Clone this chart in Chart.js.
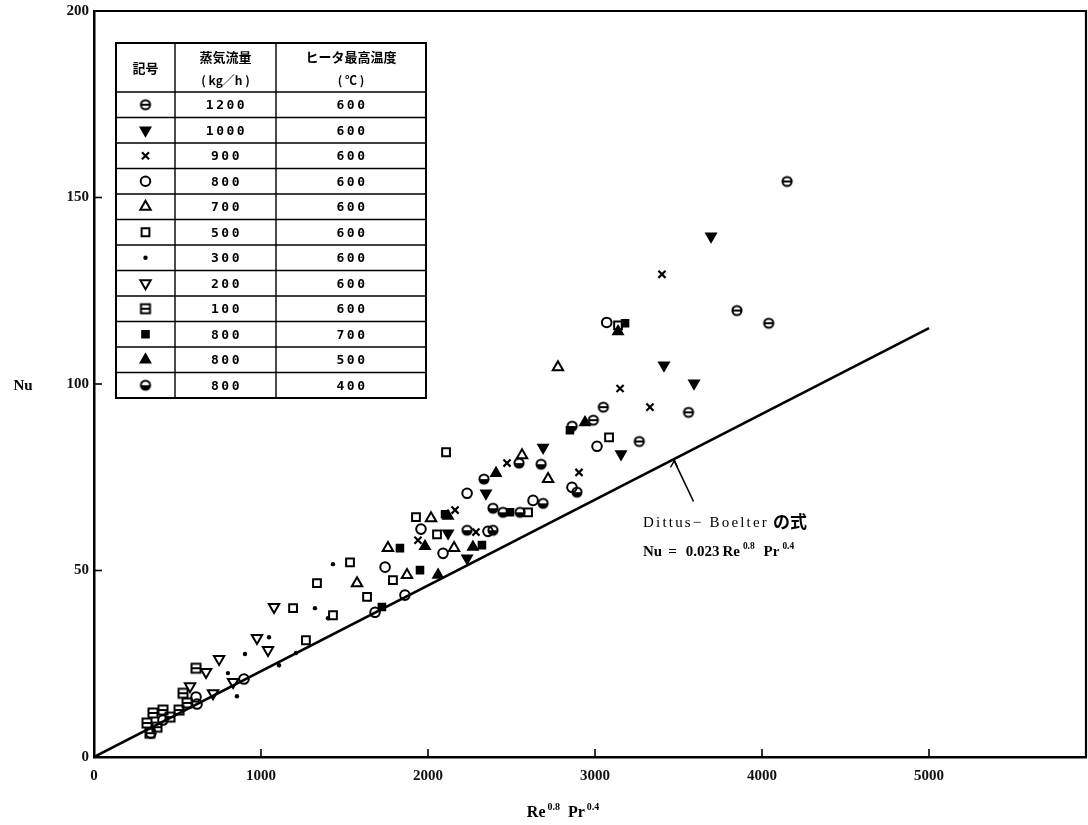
<!DOCTYPE html>
<html>
<head>
<meta charset="utf-8">
<title>Nu vs Re^0.8 Pr^0.4</title>
<script src="https://cdn.jsdelivr.net/npm/chart.js@4.4.1/dist/chart.umd.min.js"></script>
<style>
  html, body { margin: 0; padding: 0; background: #fff; }
  #wrap { position: relative; width: 1088px; height: 825px; }
</style>
</head>
<body>
<div id="wrap"><canvas id="chart" width="1088" height="825"></canvas></div>
<script>
// --- AXES ---
const xAxisTicks = [0, 1000, 2000, 3000, 4000, 5000];
const yAxisTicks = [0, 50, 100, 150, 200];

// --- MEASURED POINTS (x = Re^0.8 Pr^0.4, y = Nu) ---
// steam flow 1200 kg/h, heater 600 C
const s1200X = [4150, 3850, 4040, 3560, 3265, 3050, 2990];
const s1200Y = [154.3, 119.7, 116.3, 92.4, 84.6, 93.8, 90.3];
// 1000 kg/h
const s1000X = [3695, 3413, 3593, 3156, 2689, 2347, 2120, 2234];
const s1000Y = [139.6, 105.0, 100.2, 81.2, 83.0, 70.7, 60.0, 53.3];
// 900 kg/h
const s900X = [3401, 3150, 3329, 2904, 2473, 2287, 1940, 2162];
const s900Y = [129.4, 98.8, 93.8, 76.3, 78.8, 60.3, 58.1, 66.2];
// 800 kg/h
const s800X = [3070, 3012, 2234, 1958, 2090, 1743, 1683, 1862, 2862, 2629, 2359, 611, 617, 898, 341, 413];
const s800Y = [116.5, 83.3, 70.7, 61.1, 54.6, 50.9, 38.8, 43.4, 72.3, 68.8, 60.5, 16.1, 14.2, 20.9, 6.4, 9.9];
// 700 kg/h
const s700X = [2778, 2563, 2719, 2018, 2156, 1760, 1874, 1575];
const s700Y = [104.5, 80.9, 74.5, 64.0, 56.0, 56.0, 48.8, 46.6];
// 500 kg/h
const s500X = [3138, 3084, 2108, 1928, 2054, 1790, 1533, 1335, 1635, 1192, 1431, 1269, 2599];
const s500Y = [115.7, 85.7, 81.7, 64.3, 59.7, 47.4, 52.2, 46.6, 42.9, 39.9, 38.0, 31.3, 65.6];
// 300 kg/h
const s300X = [1431, 1323, 1210, 1108, 1048, 904, 802, 856, 1401];
const s300Y = [51.7, 39.9, 27.9, 24.6, 32.1, 27.6, 22.5, 16.3, 37.2];
// 200 kg/h
const s200X = [1078, 976, 1042, 749, 671, 575, 713, 833];
const s200Y = [40.2, 31.9, 28.7, 26.3, 22.8, 19.0, 17.1, 20.1];
// 100 kg/h
const s100X = [611, 533, 509, 353, 413, 455, 317, 377, 335, 557];
const s100Y = [23.8, 17.1, 12.6, 11.8, 12.6, 10.7, 9.1, 8.0, 6.4, 14.5];
// 800 kg/h, heater 700 C
const s800t700X = [3180, 2850, 2323, 1832, 1952, 1724, 2102, 2491];
const s800t700Y = [116.3, 87.6, 56.8, 56.0, 50.1, 40.2, 65.1, 65.6];
// 800 kg/h, heater 500 C
const s800t500X = [3138, 2940, 2407, 2120, 1982, 2269, 2060];
const s800t500Y = [114.1, 89.7, 76.1, 64.6, 56.5, 56.3, 48.8];
// 800 kg/h, heater 400 C
const s800t400X = [2335, 2545, 2677, 2389, 2449, 2551, 2689, 2234, 2389, 2863, 2892];
const s800t400Y = [74.5, 78.8, 78.5, 66.7, 65.6, 65.6, 68.0, 60.8, 60.8, 88.7, 71.0];

// Dittus-Boelter line and its leader
const dbX = [0, 5000];
const dbY = [0, 115];
const leaderX = [3470, 3590];
const leaderY = [79.8, 68.5];

// --- TABLE TEXT ---
const tableFlow = ['1200', '1000', '900', '800', '700', '500', '300', '200', '100', '800', '800', '800'];
const tableTemp = ['600', '600', '600', '600', '600', '600', '600', '600', '600', '700', '500', '400'];

const seriesX = [s1200X, s1000X, s900X, s800X, s700X, s500X, s300X, s200X, s100X, s800t700X, s800t500X, s800t400X];
const seriesY = [s1200Y, s1000Y, s900Y, s800Y, s700Y, s500Y, s300Y, s200Y, s100Y, s800t700Y, s800t500Y, s800t400Y];

// --- MARKERS ---
function makeMarker(kind) {
    const c = document.createElement('canvas');
    c.width = 14; c.height = 14;
    const g = c.getContext('2d');
    g.strokeStyle = '#000';
    g.fillStyle = '#000';
    g.lineWidth = 2;
    if (kind === 'circleBar') {
        g.beginPath(); g.arc(7, 7, 4.6, 0, Math.PI * 2); g.stroke();
        g.beginPath(); g.moveTo(3, 7); g.lineTo(11, 7); g.stroke();
    } else if (kind === 'circleHalf') {
        g.beginPath(); g.arc(7, 7, 4.6, 0, Math.PI); g.fill();
        g.beginPath(); g.arc(7, 7, 4.6, 0, Math.PI * 2); g.stroke();
    } else if (kind === 'squareBar') {
        g.strokeRect(2.5, 2.5, 9, 9);
        g.beginPath(); g.moveTo(2.5, 7); g.lineTo(11.5, 7); g.stroke();
    }
    return c;
}

const open = 'rgba(0,0,0,0)';
const markerStyles = [
    { pointStyle: makeMarker('circleBar'), pointRadius: 5, rotation: 0, backgroundColor: open, borderWidth: 2 },
    { pointStyle: 'triangle', pointRadius: 6, rotation: 180, backgroundColor: '#000', borderWidth: 1.5 },
    { pointStyle: 'crossRot', pointRadius: 5, rotation: 0, backgroundColor: open, borderWidth: 2.2 },
    { pointStyle: 'circle', pointRadius: 4.8, rotation: 0, backgroundColor: open, borderWidth: 2 },
    { pointStyle: 'triangle', pointRadius: 6, rotation: 0, backgroundColor: open, borderWidth: 2 },
    { pointStyle: 'rect', pointRadius: 5.5, rotation: 0, backgroundColor: open, borderWidth: 2 },
    { pointStyle: 'circle', pointRadius: 2.2, rotation: 0, backgroundColor: '#000', borderWidth: 0 },
    { pointStyle: 'triangle', pointRadius: 6, rotation: 180, backgroundColor: open, borderWidth: 2 },
    { pointStyle: makeMarker('squareBar'), pointRadius: 5, rotation: 0, backgroundColor: open, borderWidth: 2 },
    { pointStyle: 'rect', pointRadius: 5, rotation: 0, backgroundColor: '#000', borderWidth: 1.5 },
    { pointStyle: 'triangle', pointRadius: 6, rotation: 0, backgroundColor: '#000', borderWidth: 1.5 },
    { pointStyle: makeMarker('circleHalf'), pointRadius: 5, rotation: 0, backgroundColor: open, borderWidth: 2 }
];

const datasets = seriesX.map((xs, i) => ({
    type: 'scatter',
    label: tableFlow[i] + ' kg/h, ' + tableTemp[i] + ' ℃',
    data: xs.map((x, j) => ({ x: x, y: seriesY[i][j] })),
    pointStyle: markerStyles[i].pointStyle,
    pointRadius: markerStyles[i].pointRadius,
    rotation: markerStyles[i].rotation,
    backgroundColor: markerStyles[i].backgroundColor,
    borderColor: '#000',
    borderWidth: markerStyles[i].borderWidth
}));

datasets.push({
    type: 'line',
    label: 'Dittus-Boelter',
    data: dbX.map((x, j) => ({ x: x, y: dbY[j] })),
    borderColor: '#000',
    borderWidth: 2.6,
    pointRadius: 0,
    fill: false
});
datasets.push({
    type: 'line',
    label: 'leader',
    data: leaderX.map((x, j) => ({ x: x, y: leaderY[j] })),
    borderColor: '#000',
    borderWidth: 1.6,
    pointRadius: 0,
    fill: false
});

// --- DRAW HELPERS ---
const serif = "'Liberation Serif', 'DejaVu Serif', serif";
const jp = "'Noto Sans CJK JP', sans-serif";
const mono = "'DejaVu Sans Mono', monospace";

// parts: [text, isSuperscript, gapAfter]
function drawRich(ctx, parts, x, y, size, align) {
    let total = 0;
    parts.forEach(p => {
        ctx.font = 'bold ' + (p[1] ? size * 0.62 : size) + 'px ' + serif;
        total += ctx.measureText(p[0]).width + (p[2] || 0);
    });
    let cx = align === 'center' ? x - total / 2 : x;
    ctx.textAlign = 'left';
    ctx.textBaseline = 'alphabetic';
    parts.forEach(p => {
        ctx.font = 'bold ' + (p[1] ? size * 0.62 : size) + 'px ' + serif;
        ctx.fillText(p[0], cx, p[1] ? y - size * 0.45 : y);
        cx += ctx.measureText(p[0]).width + (p[2] || 0);
    });
}

const paperPlugin = {
    id: 'paper',
    afterDraw(chart) {
        const ctx = chart.ctx;
        const area = chart.chartArea;
        const xs = chart.scales.x;
        const ys = chart.scales.y;
        ctx.save();
        ctx.strokeStyle = '#000';
        ctx.fillStyle = '#000';

        // frame top + right
        ctx.lineWidth = 2.2;
        ctx.beginPath();
        ctx.moveTo(area.left, area.top);
        ctx.lineTo(area.right, area.top);
        ctx.lineTo(area.right, area.bottom);
        ctx.stroke();

        // inward ticks
        ctx.lineWidth = 1.6;
        xAxisTicks.forEach(v => {
            const px = xs.getPixelForValue(v);
            ctx.beginPath(); ctx.moveTo(px, area.bottom); ctx.lineTo(px, area.bottom - 8); ctx.stroke();
        });
        yAxisTicks.forEach(v => {
            const py = ys.getPixelForValue(v);
            ctx.beginPath(); ctx.moveTo(area.left, py); ctx.lineTo(area.left + 8, py); ctx.stroke();
        });

        // legend table
        const tL = 116, tR = 426, tT = 43, hB = 92, rowH = 25.5;
        const c1 = 175, c2 = 276;
        const tB = hB + rowH * tableFlow.length;
        ctx.lineWidth = 2;
        ctx.strokeRect(tL, tT, tR - tL, tB - tT);
        ctx.lineWidth = 1.4;
        ctx.beginPath();
        ctx.moveTo(c1, tT); ctx.lineTo(c1, tB);
        ctx.moveTo(c2, tT); ctx.lineTo(c2, tB);
        for (let i = 0; i < tableFlow.length; i++) {
            const yy = hB + rowH * i;
            ctx.moveTo(tL, yy); ctx.lineTo(tR, yy);
        }
        ctx.stroke();

        const mid1 = (tL + c1) / 2, mid2 = (c1 + c2) / 2, mid3 = (c2 + tR) / 2;
        ctx.textAlign = 'center';
        ctx.textBaseline = 'middle';
        ctx.font = 'bold 13px ' + jp;
        ctx.fillText('記号', mid1, 68);
        ctx.fillText('蒸気流量', mid2, 57);
        ctx.fillText('ヒータ最高温度', mid3, 57);
        ctx.font = 'bold 12px ' + jp;
        ctx.fillText('( kg／h )', mid2, 80);
        ctx.fillText('( ℃ )', mid3, 80);

        ctx.font = 'bold 13px ' + mono;
        ctx.letterSpacing = '2.5px';
        tableFlow.forEach((f, i) => {
            const cy = hB + rowH * i + rowH / 2;
            ctx.fillText(f, mid2 + 1, cy + 1);
            ctx.fillText(tableTemp[i], mid3 + 1, cy + 1);
            const st = markerStyles[i];
            ctx.save();
            ctx.fillStyle = st.backgroundColor;
            ctx.strokeStyle = '#000';
            ctx.lineWidth = st.borderWidth;
            Chart.helpers.drawPoint(ctx, {
                pointStyle: st.pointStyle,
                radius: st.pointRadius,
                rotation: st.rotation,
                borderWidth: st.borderWidth
            }, mid1, cy);
            ctx.restore();
        });
        ctx.letterSpacing = '0px';

        // axis titles
        ctx.textAlign = 'center';
        ctx.textBaseline = 'middle';
        ctx.font = 'bold 15px ' + serif;
        ctx.fillText('Nu', 23, 386);
        drawRich(ctx, [['Re', false, 2], ['0.8', true, 8], ['Pr', false, 2], ['0.4', true, 0]], 563, 817, 16, 'center');

        // Dittus-Boelter annotation
        const lx = xs.getPixelForValue(leaderX[0]);
        const ly = ys.getPixelForValue(leaderY[0]);
        ctx.lineWidth = 1.4;
        ctx.beginPath();
        ctx.moveTo(lx - 3, ly + 8); ctx.lineTo(lx + 1, ly + 1); ctx.lineTo(lx + 4, ly + 8);
        ctx.stroke();

        ctx.textAlign = 'left';
        ctx.textBaseline = 'alphabetic';
        ctx.font = '15px ' + serif;
        ctx.letterSpacing = '2.2px';
        const dbText = 'Dittus− Boelter';
        ctx.fillText(dbText, 643, 527);
        const dbW = ctx.measureText(dbText).width;
        ctx.letterSpacing = '0px';
        ctx.font = 'bold 17px ' + jp;
        ctx.fillText('の式', 643 + dbW + 4, 528);
        drawRich(ctx, [['Nu', false, 6], ['=', false, 9], ['0.023', false, 3], ['Re', false, 3], ['0.8', true, 9], ['Pr', false, 3], ['0.4', true, 0]], 643, 556, 15, 'left');

        ctx.restore();
    }
};

const tickFont = { family: serif, size: 15, weight: 'bold' };

new Chart(document.getElementById('chart'), {
    data: { datasets: datasets },
    options: {
        responsive: false,
        animation: false,
        layout: { autoPadding: false, padding: { top: 11, right: 2, left: 0, bottom: 0 } },
        plugins: {
            legend: { display: false },
            tooltip: { enabled: false }
        },
        scales: {
            x: {
                type: 'linear',
                min: 0,
                max: 5940,
                afterBuildTicks: axis => { axis.ticks = xAxisTicks.map(v => ({ value: v })); },
                afterFit: axis => {
                    axis.height = 68;
                    axis.paddingLeft = 0;
                    axis.paddingRight = 0;
                },
                grid: { display: false, drawTicks: false },
                border: { display: true, color: '#000', width: 2.5 },
                ticks: { font: tickFont, color: '#111', padding: 10, maxRotation: 0, callback: v => String(v) }
            },
            y: {
                type: 'linear',
                min: 0,
                max: 200,
                afterBuildTicks: axis => { axis.ticks = yAxisTicks.map(v => ({ value: v })); },
                afterFit: axis => {
                    axis.width = 94;
                    axis.paddingTop = 0;
                    axis.paddingBottom = 0;
                },
                grid: { display: false, drawTicks: false },
                border: { display: true, color: '#000', width: 2.5 },
                ticks: { font: tickFont, color: '#111', padding: 5, callback: v => String(v) }
            }
        }
    },
    plugins: [paperPlugin]
});
</script>
</body>
</html>
